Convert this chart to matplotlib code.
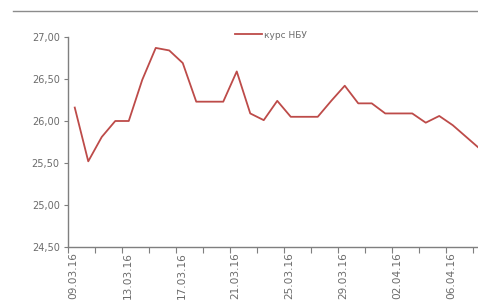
import matplotlib.pyplot as plt
import numpy as np
from matplotlib.lines import Line2D

# data: daily NBU rate, 09.03.16 - 08.04.16
dates = ['09.03.16', '10.03.16', '11.03.16', '12.03.16', '13.03.16', '14.03.16', '15.03.16',
         '16.03.16', '17.03.16', '18.03.16', '19.03.16', '20.03.16', '21.03.16', '22.03.16',
         '23.03.16', '24.03.16', '25.03.16', '26.03.16', '27.03.16', '28.03.16', '29.03.16',
         '30.03.16', '31.03.16', '01.04.16', '02.04.16', '03.04.16', '04.04.16', '05.04.16',
         '06.04.16', '07.04.16', '08.04.16']
rate_nbu = [26.16, 25.52, 25.81, 26.00, 26.00, 26.49, 26.87,
            26.84, 26.69, 26.23, 26.23, 26.23, 26.59, 26.09,
            26.01, 26.24, 26.05, 26.05, 26.05, 26.24, 26.42,
            26.21, 26.21, 26.09, 26.09, 26.09, 25.98, 26.06,
            25.95, 25.81, 25.67]
y_ticks = [24.5, 25.0, 25.5, 26.0, 26.5, 27.0]

grey = '#7f7f7f'
txt = '#6b6b6b'
red = '#bd4b49'

fig = plt.figure(figsize=(4.78, 3.02), dpi=100)
ax = fig.add_axes([68/478, 55/302, 418.5/478, 210/302])

x = np.arange(len(dates))
line, = ax.plot(x, rate_nbu, color=red, linewidth=1.3, label='курс НБУ')

ax.set_xlim(-0.5, len(dates) - 0.5)
ax.set_ylim(24.5, 27.0)
ax.set_yticks(y_ticks)
ax.yaxis.set_major_formatter(plt.FuncFormatter(lambda v, p: ('%.2f' % v).replace('.', ',')))

# labels every 4 days, tick marks every 2 days on category edges
ax.set_xticks(x[::4] - 0.1)
ax.set_xticklabels(dates[::4], rotation=90)
ax.set_xticks(np.arange(-0.5, len(dates), 2), minor=True)
ax.tick_params(axis='x', which='major', length=0, pad=4, labelsize=7.6, labelcolor=txt)
ax.tick_params(axis='x', which='minor', length=4, width=0.8, color=grey, direction='out')
ax.tick_params(axis='y', length=3, width=0.8, color=grey, pad=3, labelsize=7, labelcolor=txt)

for s in ['top', 'right']:
    ax.spines[s].set_visible(False)
for s in ['left', 'bottom']:
    ax.spines[s].set_color(grey)
    ax.spines[s].set_linewidth(1.0)

fig.legend(handles=[line], loc='center left', bbox_to_anchor=(230/478, 1 - 35/302),
           frameon=False, fontsize=6.5, handlelength=3.0, handletextpad=0.3,
           borderpad=0, labelcolor=txt)

# rule under the (cropped) title
fig.add_artist(Line2D([13/478, 1.0], [1 - 11/302, 1 - 11/302], color='#8c8c8c', linewidth=1.0))

fig.savefig('out.png', dpi=100)
